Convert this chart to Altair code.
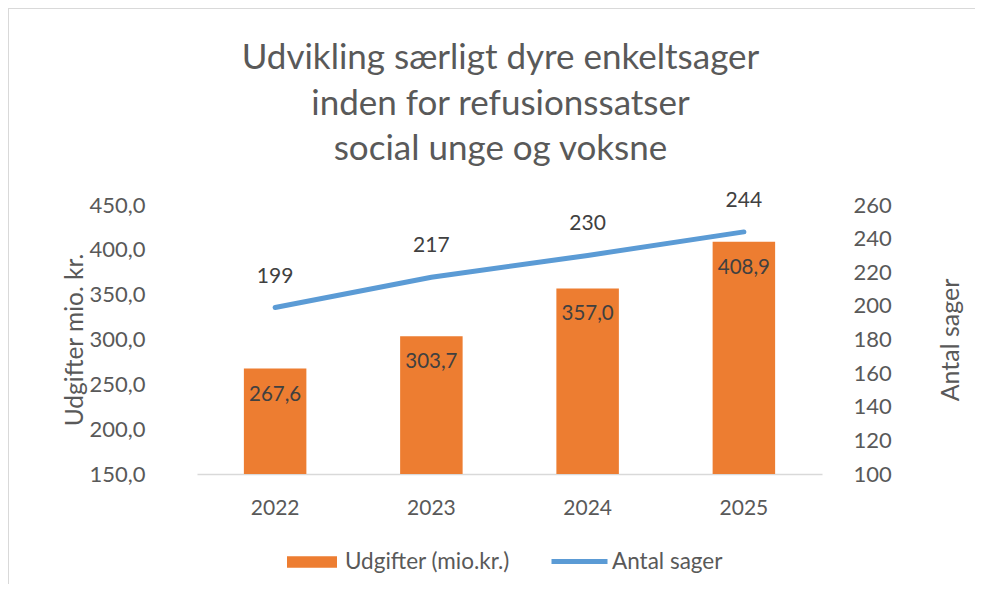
import altair as alt
import pandas as pd

years = ["2022", "2023", "2024", "2025"]
udgifter = [267.6, 303.7, 357.0, 408.9]
sager = [199, 217, 230, 244]
left_ticks = [150, 200, 250, 300, 350, 400, 450]
right_ticks = [100, 120, 140, 160, 180, 200, 220, 240, 260]
title_lines = ["Udvikling særligt dyre enkeltsager", "inden for refusionssatser", "social unge og voksne"]
bar_name = "Udgifter (mio.kr.)"
line_name = "Antal sager"

df = pd.DataFrame({"year": years, "udgifter": udgifter, "sager": sager})
df["bar_series"] = bar_name
df["line_series"] = line_name

FONT = "Lato"
GRAY = "#595959"
DARK = "#404040"
ORANGE = "#ED7D31"
BLUE = "#5B9BD5"
BORDER = "#d9d9d9"

x = alt.X(
    "year:O",
    scale=alt.Scale(paddingInner=0.6, paddingOuter=0.3),
    axis=alt.Axis(
        title=None, labelAngle=0, labelPadding=23, labelFontSize=21, labelColor=GRAY,
        labelFont=FONT, ticks=False, domainColor=BORDER, domainWidth=1.5, grid=False,
    ),
)

yl_scale = alt.Scale(domain=[150, 450], nice=False, zero=False)
yr_scale = alt.Scale(domain=[100, 260], nice=False, zero=False)

left_axis = alt.Axis(
    orient="left", values=left_ticks, grid=False, domain=False, ticks=False,
    labelExpr="replace(format(datum.value, '.1f'), '.', ',')", labelOverlap=False,
    labelFontSize=22, labelColor=GRAY, labelFont=FONT, labelPadding=52,
    title="Udgifter mio. kr.", titleFontSize=24.5, titleColor=GRAY, titleFont=FONT,
    titleFontWeight="normal", titleAngle=270, titleX=-121.5, titleY=134.5,
    titleAlign="center", titleBaseline="middle",
)

right_axis = alt.Axis(
    orient="right", values=right_ticks, grid=False, domain=False, ticks=False,
    labelOverlap=False, labelSeparation=0,
    labelFontSize=22, labelColor=GRAY, labelFont=FONT, labelPadding=31,
    title="Antal sager", titleFontSize=25, titleColor=GRAY, titleFont=FONT,
    titleFontWeight="normal", titleAngle=270, titleX=128, titleY=134.5,
    titleAlign="center", titleBaseline="middle",
)

base = alt.Chart(df)

bars = base.mark_bar().encode(
    x=x,
    y=alt.Y("udgifter:Q", scale=yl_scale, axis=left_axis),
    y2=alt.datum(150),
    color=alt.Color(
        "bar_series:N",
        scale=alt.Scale(domain=[bar_name], range=[ORANGE]),
        legend=alt.Legend(
            title=None, orient="none", legendX=90, legendY=332, padding=0,
            symbolType="M-1,-0.23H1V0.23H-1Z", symbolSize=2500,
            symbolStrokeWidth=0, labelFontSize=22.5, labelColor=GRAY, labelFont=FONT,
            labelOffset=8, labelLimit=400,
        ),
    ),
)

bar_text = base.transform_calculate(
    lab="replace(format(datum.udgifter, '.1f'), '.', ',')"
).mark_text(dy=26, fontSize=20.5, color=DARK, font=FONT, baseline="middle").encode(
    x=x, y=alt.Y("udgifter:Q", scale=yl_scale), text="lab:N"
)

line = base.mark_line(strokeWidth=5, strokeCap="round").encode(
    x=x,
    y=alt.Y("sager:Q", scale=yr_scale, axis=right_axis),
    stroke=alt.Stroke(
        "line_series:N",
        scale=alt.Scale(domain=[line_name], range=[BLUE]),
        legend=alt.Legend(
            title=None, orient="none", legendX=352, legendY=326, padding=0,
            symbolType="stroke", symbolSize=3136, symbolStrokeWidth=5,
            labelFontSize=22.5, labelColor=GRAY, labelFont=FONT, labelOffset=2,
            labelLimit=400,
        ),
    ),
)

line_text = base.mark_text(dy=-31, fontSize=21, color=DARK, font=FONT, baseline="middle").encode(
    x=x, y=alt.Y("sager:Q", scale=yr_scale, axis=right_axis), text="sager:N"
)

frame_df = pd.DataFrame({"k": [0]})
frame_left = alt.Chart(frame_df).mark_rule(color=BORDER, strokeWidth=2, clip=False).encode(
    x=alt.value(-189), y=alt.value(-197), y2=alt.value(390)
)
frame_top = alt.Chart(frame_df).mark_rule(color=BORDER, strokeWidth=2, clip=False).encode(
    x=alt.value(-189), x2=alt.value(780), y=alt.value(-197)
)

left = alt.layer(bars, bar_text)
right = alt.layer(line, line_text)

chart = (
    alt.layer(frame_left, frame_top, left, right)
    .resolve_scale(y="independent", color="independent", stroke="independent")
    .properties(
        width=625,
        height=269,
        autosize=alt.AutoSizeParams(type="none"),
        padding={"left": 189, "top": 197, "right": 153, "bottom": 110},
        title=alt.TitleParams(
            text=title_lines, fontSize=35, font=FONT, color=GRAY, fontWeight="normal",
            lineHeight=45.5, anchor="middle", baseline="alphabetic", dx=-9, dy=188, offset=0,
        ),
    )
    .configure_view(stroke="transparent")
)

chart.save("out.html", embed_options={"renderer": "svg", "actions": False})
